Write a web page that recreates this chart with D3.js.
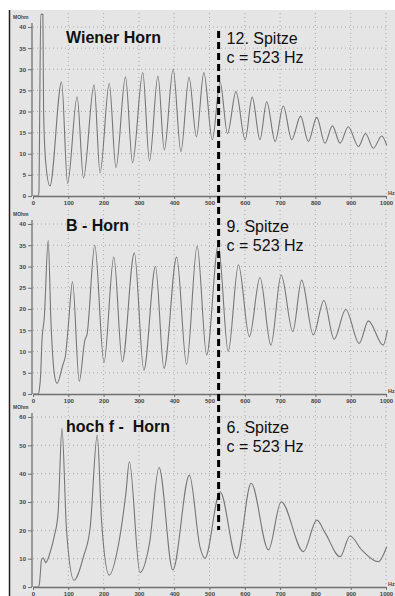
<!DOCTYPE html>
<html>
<head>
<meta charset="utf-8">
<script src="https://cdn.jsdelivr.net/npm/d3@7"></script>
<style>
  body { margin: 0; background: #fff; }
  svg { display: block; }
  text { font-family: "Liberation Sans", Arial, sans-serif; }
</style>
</head>
<body>
<svg id="chart" width="395" height="596"></svg>
<script>
// impedance (MOhm) against frequency (Hz)
const wienerHorn = [
  [0, 0], [14, 0], [17, 1], [19, 20], [22, 43], [28, 43], [30, 20], [36, 8],
  [48, 2.4], [81, 27], [98, 3.0], [125, 23.5], [143, 4.3], [173, 26.3], [190, 5.5],
  [216, 26.7], [235, 6.7], [262, 28.2], [282, 7.9], [311, 29.2], [330, 8.3],
  [354, 28.4], [372, 10.9], [397, 30], [419, 10.5], [442, 28.1], [463, 14],
  [484, 29.2], [508, 13.3], [530, 27], [551, 14.8], [575, 24.7], [601, 13.3],
  [621, 23.4], [643, 13.3], [662, 22.3], [686, 12.9], [709, 21.3], [733, 13.3],
  [758, 18.9], [780, 12.9], [804, 18.6], [827, 12.5], [848, 16.6], [870, 12.5],
  [893, 16.4], [922, 11.7], [942, 14.8], [964, 11.3], [988, 14.2], [1002, 12]
]
const bHorn = [
  [0, 0], [15, 0], [18, 1], [22, 5], [25, 12], [32, 18], [43, 36.1], [51, 16.7],
  [60, 5], [68, 2.5], [85, 7], [92, 9], [100, 16], [112, 26.4], [131, 3.0],
  [147, 12.7], [153, 14], [175, 35], [201, 7.4], [229, 32.2], [253, 7.6],
  [287, 33.2], [314, 5.6], [347, 30], [371, 6], [407, 32.2], [435, 7], [465, 34.8],
  [492, 9.2], [525, 35], [553, 10], [582, 30.4], [613, 13.5], [643, 27.4],
  [674, 11.5], [703, 28], [736, 14.7], [761, 26.8], [794, 13.9], [824, 22],
  [853, 12.9], [886, 19.9], [924, 11.9], [950, 17.2], [992, 11.5], [1004, 15]
]
const hochFHorn = [
  [0, 0], [16, 0], [19, 2], [24, 9.5], [29, 10.3], [36, 8.6], [48, 12], [60, 17.8],
  [71, 26], [82, 56], [95, 20], [116, 2.4], [143, 10.7], [162, 21], [182, 53.6],
  [194, 23.6], [216, 4.2], [241, 14.2], [263, 33], [273, 44.2], [303, 5.1],
  [330, 15.4], [357, 42.2], [396, 6], [443, 39.5], [473, 14.2], [487, 10.1],
  [530, 33.6], [577, 10.1], [618, 36.6], [667, 13.1], [703, 30.1], [766, 12.5],
  [804, 23.6], [828, 19], [870, 10.7], [898, 18], [931, 13.1], [978, 8.9], [1002, 14.2]
]

const freqTicks = [0, 100, 200, 300, 400, 500, 600, 700, 800, 900, 1000]
const ticks40 = [0, 5, 10, 15, 20, 25, 30, 35, 40]
const ticks60 = [0, 10, 20, 30, 40, 50, 60]

const titles = ['Wiener Horn', 'B - Horn', 'hoch f -  Horn']
const peakLabels = ['12. Spitze', '9. Spitze', '6. Spitze']
const markerHz = 523

const panels = [
  { data: wienerHorn, ticks: ticks40, max: 40, top: 27, bottom: 196, textY: 43 },
  { data: bHorn, ticks: ticks40, max: 40, top: 224, bottom: 394, textY: 231 },
  { data: hochFHorn, ticks: ticks60, max: 60, top: 417, bottom: 587, textY: 432 },
]

const svg = d3.select('#chart')

svg.append('rect')
  .attr('x', 9).attr('y', 10)
  .attr('width', 386).attr('height', 586)
  .attr('fill', '#e5e5e5')

svg.append('line')
  .attr('x1', 9.5).attr('x2', 9.5)
  .attr('y1', 10).attr('y2', 596)
  .attr('stroke', '#222').attr('stroke-width', 1.5)

const x = d3.scaleLinear().domain([0, 1000]).range([33, 386])

panels.forEach((p, i) => {
  const y = d3.scaleLinear().domain([0, p.max]).range([p.bottom, p.top])
  const g = svg.append('g')

  // dotted grid
  g.selectAll('.vgrid')
    .data(freqTicks.slice(1))
    .join('line')
      .attr('x1', (d) => x(d)).attr('x2', (d) => x(d))
      .attr('y1', p.top - 14).attr('y2', p.bottom)
      .attr('stroke', '#9a9a9a')
      .attr('stroke-width', 0.8)
      .attr('stroke-dasharray', '1,3')
  g.selectAll('.hgrid')
    .data(p.ticks.slice(1))
    .join('line')
      .attr('x1', x(0)).attr('x2', x(1000))
      .attr('y1', (d) => y(d)).attr('y2', (d) => y(d))
      .attr('stroke', '#9a9a9a')
      .attr('stroke-width', 0.8)
      .attr('stroke-dasharray', '1,3')

  // axes
  const xAxis = g.append('g')
    .attr('transform', `translate(0,${p.bottom})`)
    .call(d3.axisBottom(x).tickValues(freqTicks).tickFormat(d3.format('d'))
      .tickSize(3).tickSizeOuter(0).tickPadding(2))
  const yAxis = g.append('g')
    .attr('transform', `translate(${x(0) - 1},0)`)
    .call(d3.axisLeft(y).tickValues(p.ticks).tickSize(4).tickSizeOuter(0).tickPadding(2))

  ;[xAxis, yAxis].forEach((ax) => {
    ax.select('.domain').attr('stroke', '#707070').attr('stroke-width', 1.3)
    ax.selectAll('.tick line').attr('stroke', '#707070')
    ax.selectAll('.tick text')
      .attr('font-size', 6)
      .attr('font-weight', 'bold')
      .attr('fill', '#444')
      .style('font-family', '"Liberation Sans", Arial, sans-serif')
  })
  yAxis.select('.domain').attr('d', `M0,${p.bottom}V${p.top - 4}`)

  g.append('text')
    .attr('x', x(1000) + 2).attr('y', p.bottom - 1)
    .attr('font-size', 5.5).attr('font-weight', 'bold').attr('fill', '#444')
    .text('Hz')
  g.append('text')
    .attr('x', 13).attr('y', p.top - 8)
    .attr('font-size', 5).attr('font-weight', 'bold').attr('fill', '#444')
    .text('MOhm')

  // impedance curve
  const line = d3.line()
    .x((d) => x(d[0]))
    .y((d) => y(d[1]))
    .curve(d3.curveMonotoneX)
  g.append('path')
    .datum(p.data)
    .attr('fill', 'none')
    .attr('stroke', '#767676')
    .attr('stroke-width', 1.1)
    .attr('d', line)

  // labels
  g.append('text')
    .attr('x', 66).attr('y', p.textY)
    .attr('font-size', 16).attr('font-weight', 'bold').attr('fill', '#111')
    .style('white-space', 'pre')
    .text(titles[i])
  g.append('text')
    .attr('x', x(markerHz) + 9).attr('y', p.textY + 1)
    .attr('font-size', 16).attr('fill', '#111')
    .text(peakLabels[i])
  g.append('text')
    .attr('x', x(markerHz) + 9).attr('y', p.textY + 20)
    .attr('font-size', 16).attr('fill', '#111')
    .text(`c = ${markerHz} Hz`)
})

// dashed marker at c = 523 Hz
svg.append('line')
  .attr('x1', x(markerHz) + 1).attr('x2', x(markerHz) + 1)
  .attr('y1', 31).attr('y2', 530)
  .attr('stroke', '#000')
  .attr('stroke-width', 3)
  .attr('stroke-dasharray', '7,4')
</script>
</body>
</html>
